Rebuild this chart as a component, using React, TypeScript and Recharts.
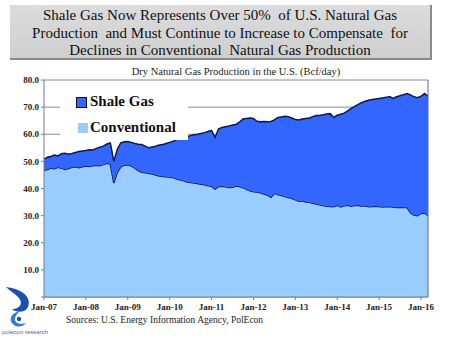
import { Area, AreaChart, CartesianGrid, ReferenceLine, XAxis, YAxis } from "recharts";

// Monthly dry gas production, Jan-07 .. Mar-16 (Bcf/day)
const total = [
  50.8, 51.5, 51.8, 52.3, 52.0, 52.8, 53.0, 52.6, 52.9, 53.3, 53.6, 53.8,
  54.0, 54.3, 54.2, 54.8, 55.2, 55.6, 56.4, 56.8, 50.0, 54.5, 56.8, 57.2,
  57.3, 57.0, 56.6, 56.3, 56.2, 55.6, 55.0, 55.3, 55.6, 56.0, 56.2, 56.6,
  57.0, 57.4, 58.0, 58.5, 58.8, 59.2, 59.5, 59.8, 60.0, 60.3, 60.6, 61.0,
  61.4, 58.8, 62.0, 62.5, 62.8, 63.0, 63.4, 63.6, 64.5, 65.6, 65.8, 66.0,
  65.8, 64.8, 64.6, 64.7, 64.6, 64.7, 65.3, 66.2, 66.4, 66.6, 66.5, 66.0,
  65.4, 65.3, 65.6, 65.8, 66.0, 66.5, 66.9, 66.9, 67.2, 67.5, 67.6, 66.2,
  67.0, 67.4, 67.8, 68.6, 69.5, 70.3, 71.0, 71.6, 72.2, 72.5, 72.8, 73.0,
  73.2, 73.4, 73.6, 73.9, 73.2, 73.8, 74.2, 74.6, 75.0, 74.5, 73.8, 73.5,
  74.0, 75.0, 74.0,
];

const conventional = [
  46.7, 47.0, 47.5, 47.3, 47.8, 47.5, 47.0, 47.4, 47.8, 48.0, 47.7, 48.0,
  48.3, 48.1, 48.4, 48.6, 48.4, 48.8, 49.3, 49.0, 42.0, 46.0, 48.0, 48.6,
  48.7, 48.3, 47.5, 46.6, 46.0, 45.8, 45.6, 45.3, 45.0, 44.6, 44.4, 44.3,
  44.2, 44.0, 43.5, 43.2, 42.8, 42.4, 42.2, 42.0, 41.8, 41.6, 41.4, 41.0,
  40.8, 39.8, 40.7, 40.8, 40.6, 40.4, 40.5, 40.9, 40.7, 40.3, 39.7, 39.2,
  38.8, 38.7, 38.4, 38.0, 37.6, 36.8, 38.2, 37.8, 37.4, 37.0, 36.7, 36.4,
  35.8, 35.3, 35.5, 35.0, 34.9, 34.6, 34.3, 34.0, 33.7, 33.5, 33.4, 33.3,
  33.8, 33.2, 33.6, 33.8, 33.5, 33.7, 33.8, 33.5, 33.6, 33.3, 33.4, 33.5,
  33.4, 33.2, 33.4, 33.3, 33.2, 33.0, 33.1, 33.0, 33.0, 31.0, 30.2, 30.0,
  30.8, 31.0, 30.0,
];

const yearLabels = ["Jan-07", "Jan-08", "Jan-09", "Jan-10", "Jan-11", "Jan-12", "Jan-13", "Jan-14", "Jan-15", "Jan-16"];
const yTicks = [0, 10, 20, 30, 40, 50, 60, 70, 80];

const SERIF = "Liberation Serif, Tinos, DejaVu Serif, Times New Roman, serif";

export default function App() {
  const data = total.map((t, i) => ({
    m: i,
    conventional: conventional[i],
    shale: +(t - conventional[i]).toFixed(1),
  }));
  const xTicks = yearLabels.map((_, i) => i * 12);

  return (
    <div style={{ position: "absolute", left: 0, top: 0, width: 450, height: 337, background: "#fff", fontFamily: SERIF }}>
      {/* title box */}
      <div
        style={{
          position: "absolute", left: 10, top: 5, width: 422, height: 55,
          background: "linear-gradient(#dcdcdc, #cfcfcf)",
          borderRight: "2px solid #8a8a8a", borderBottom: "2px solid #8a8a8a",
          textAlign: "center", fontSize: 15, lineHeight: "17.5px", color: "#111",
          paddingTop: 2, boxSizing: "border-box", fontFamily: SERIF,
        }}
      >
        Shale Gas Now Represents Over 50%&nbsp; of U.S. Natural Gas<br />
        Production&nbsp; and Must Continue to Increase to Compensate&nbsp; for<br />
        Declines in Conventional&nbsp; Natural Gas Production
      </div>

      <div style={{ position: "absolute", left: 0, width: 472, top: 66, textAlign: "center", fontSize: 10.5, color: "#222", fontFamily: SERIF }}>
        Dry Natural Gas Production in the U.S. (Bcf/day)
      </div>

      <AreaChart width={450} height={337} data={data} margin={{ top: 80, right: 22, left: 0, bottom: 0 }}>
        <CartesianGrid vertical={false} stroke="#8c8c8c" />
        <XAxis
          dataKey="m"
          type="number"
          domain={[0, 110]}
          ticks={xTicks}
          tickFormatter={(v: number) => yearLabels[v / 12]}
          height={40}
          stroke="#6d7f99"
          tickSize={3}
          tick={{ fontSize: 9, fontWeight: "bold", fontFamily: SERIF, fill: "#222", dy: 2 }}
        />
        <YAxis
          domain={[0, 80]}
          ticks={yTicks}
          width={44}
          stroke="#6d7f99"
          tickSize={3}
          tickFormatter={(v: number) => (v === 0 ? "" : v.toFixed(1))}
          tick={{ fontSize: 9, fontWeight: "bold", fontFamily: SERIF, fill: "#222" }}
        />
        <Area
          type="linear"
          dataKey="conventional"
          stackId="1"
          stroke="#0b1a4d"
          strokeWidth={1.5}
          fill="#99ccff"
          fillOpacity={1}
          isAnimationActive={false}
        />
        <Area
          type="linear"
          dataKey="shale"
          stackId="1"
          stroke="#0b1a4d"
          strokeWidth={1.5}
          fill="#3366ff"
          fillOpacity={1}
          isAnimationActive={false}
        />
        <ReferenceLine x={110} stroke="#5a6a88" />
      </AreaChart>

      {/* legend */}
      <div style={{ position: "absolute", left: 60, top: 90, width: 128, height: 50, background: "#fff", fontSize: 15, fontWeight: "bold", color: "#111", fontFamily: SERIF }}>
        <div style={{ position: "absolute", left: 16, top: 7, width: 9, height: 9, background: "#3366ff", border: "1px solid #111" }} />
        <div style={{ position: "absolute", left: 30, top: 2, lineHeight: "18px" }}>Shale Gas</div>
        <div style={{ position: "absolute", left: 18, top: 33, width: 10, height: 10, background: "#99ccff" }} />
        <div style={{ position: "absolute", left: 30, top: 28, lineHeight: "18px" }}>Conventional</div>
      </div>

      <div style={{ position: "absolute", left: 66, top: 315, fontSize: 9.5, color: "#222", fontFamily: SERIF }}>
        Sources: U.S. Energy Information Agency, PolEcon
      </div>

      {/* logo */}
      <svg style={{ position: "absolute", left: 0, top: 283 }} width={48} height={54}>
        <path d="M6 4 C22 6 32 14 28 24 C25 30 16 30 12 26 C20 26 24 20 18 14 C14 10 10 8 6 4 Z" fill="#1f4fae" />
        <path d="M20 28 C10 30 8 38 14 42 C18 45 24 43 26 40 C20 42 14 40 15 35 C16 31 19 29 20 28 Z" fill="#3a78d8" />
        <circle cx="19" cy="36" r="2.2" fill="#1f4fae" />
        <text x="2" y="51" fontSize="6" fill="#3a6fc4" fontFamily="Arial">polecon research</text>
      </svg>
    </div>
  );
}
